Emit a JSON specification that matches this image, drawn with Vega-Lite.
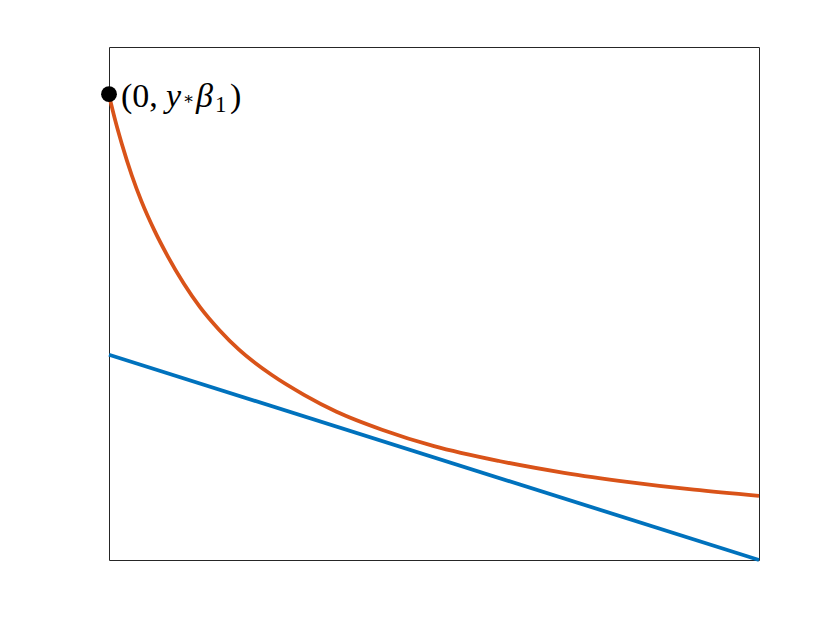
{
  "$schema": "https://vega.github.io/schema/vega-lite/v6.json",
  "width": 650,
  "height": 513,
  "autosize": "none",
  "padding": {"left": 109, "top": 47, "right": 81, "bottom": 70},
  "background": "white",
  "config": {"view": {"stroke": "#262626", "strokeWidth": 1}},
  "datasets": {
    "curves": [
      {"x": 0, "y": 0.4, "s": "line"},
      {"x": 1, "y": 0.0, "s": "line"},
      {"x": 0, "y": 0.906, "s": "curve"},
      {"x": 0.01, "y": 0.855, "s": "curve"},
      {"x": 0.02, "y": 0.810, "s": "curve"},
      {"x": 0.035, "y": 0.750, "s": "curve"},
      {"x": 0.05, "y": 0.699, "s": "curve"},
      {"x": 0.07, "y": 0.642, "s": "curve"},
      {"x": 0.09, "y": 0.593, "s": "curve"},
      {"x": 0.115, "y": 0.539, "s": "curve"},
      {"x": 0.14, "y": 0.493, "s": "curve"},
      {"x": 0.17, "y": 0.448, "s": "curve"},
      {"x": 0.2, "y": 0.410, "s": "curve"},
      {"x": 0.25, "y": 0.361, "s": "curve"},
      {"x": 0.3, "y": 0.322, "s": "curve"},
      {"x": 0.35, "y": 0.289, "s": "curve"},
      {"x": 0.42, "y": 0.254, "s": "curve"},
      {"x": 0.5, "y": 0.222, "s": "curve"},
      {"x": 0.6, "y": 0.193, "s": "curve"},
      {"x": 0.7, "y": 0.170, "s": "curve"},
      {"x": 0.8, "y": 0.152, "s": "curve"},
      {"x": 0.9, "y": 0.137, "s": "curve"},
      {"x": 1, "y": 0.125, "s": "curve"}
    ],
    "pt": [{"x": 0, "y": 0.908, "a": "(0,", "b": "y", "c": "∗", "d": "β", "e": "1", "f": ")"}]
  },
  "layer": [
    {
      "data": {"name": "curves"},
      "mark": {"type": "line", "strokeWidth": 3.8, "interpolate": "monotone"},
      "encoding": {
        "x": {"field": "x", "type": "quantitative", "scale": {"domain": [0, 1], "nice": false, "zero": false}, "axis": null},
        "y": {"field": "y", "type": "quantitative", "scale": {"domain": [0, 1], "nice": false, "zero": false}, "axis": null},
        "color": {"field": "s", "type": "nominal", "scale": {"domain": ["line", "curve"], "range": ["#0072BD", "#D95319"]}, "legend": null}
      }
    },
    {
      "data": {"name": "pt"},
      "mark": {"type": "point", "filled": true, "color": "black", "size": 250, "opacity": 1},
      "encoding": {
        "x": {"field": "x", "type": "quantitative", "scale": {"domain": [0, 1]}},
        "y": {"field": "y", "type": "quantitative", "scale": {"domain": [0, 1]}}
      }
    },
    {
      "data": {"name": "pt"},
      "mark": {"type": "text", "align": "left", "baseline": "alphabetic", "dx": 12, "dy": 13, "fontSize": 34, "font": "Liberation Serif", "color": "black"},
      "encoding": {"x": {"field": "x", "type": "quantitative"}, "y": {"field": "y", "type": "quantitative"}, "text": {"field": "a"}}
    },
    {
      "data": {"name": "pt"},
      "mark": {"type": "text", "align": "left", "baseline": "alphabetic", "dx": 57, "dy": 13, "fontSize": 34, "font": "Liberation Serif", "fontStyle": "italic", "color": "black"},
      "encoding": {"x": {"field": "x", "type": "quantitative"}, "y": {"field": "y", "type": "quantitative"}, "text": {"field": "b"}}
    },
    {
      "data": {"name": "pt"},
      "mark": {"type": "text", "align": "left", "baseline": "middle", "dx": 74, "dy": 5, "fontSize": 17, "font": "DejaVu Serif", "color": "black"},
      "encoding": {"x": {"field": "x", "type": "quantitative"}, "y": {"field": "y", "type": "quantitative"}, "text": {"field": "c"}}
    },
    {
      "data": {"name": "pt"},
      "mark": {"type": "text", "align": "left", "baseline": "alphabetic", "dx": 87, "dy": 13, "fontSize": 34, "font": "Liberation Serif", "fontStyle": "italic", "color": "black"},
      "encoding": {"x": {"field": "x", "type": "quantitative"}, "y": {"field": "y", "type": "quantitative"}, "text": {"field": "d"}}
    },
    {
      "data": {"name": "pt"},
      "mark": {"type": "text", "align": "left", "baseline": "alphabetic", "dx": 106, "dy": 18, "fontSize": 23, "font": "Liberation Serif", "color": "black"},
      "encoding": {"x": {"field": "x", "type": "quantitative"}, "y": {"field": "y", "type": "quantitative"}, "text": {"field": "e"}}
    },
    {
      "data": {"name": "pt"},
      "mark": {"type": "text", "align": "left", "baseline": "alphabetic", "dx": 121, "dy": 13, "fontSize": 34, "font": "Liberation Serif", "color": "black"},
      "encoding": {"x": {"field": "x", "type": "quantitative"}, "y": {"field": "y", "type": "quantitative"}, "text": {"field": "f"}}
    }
  ]
}
